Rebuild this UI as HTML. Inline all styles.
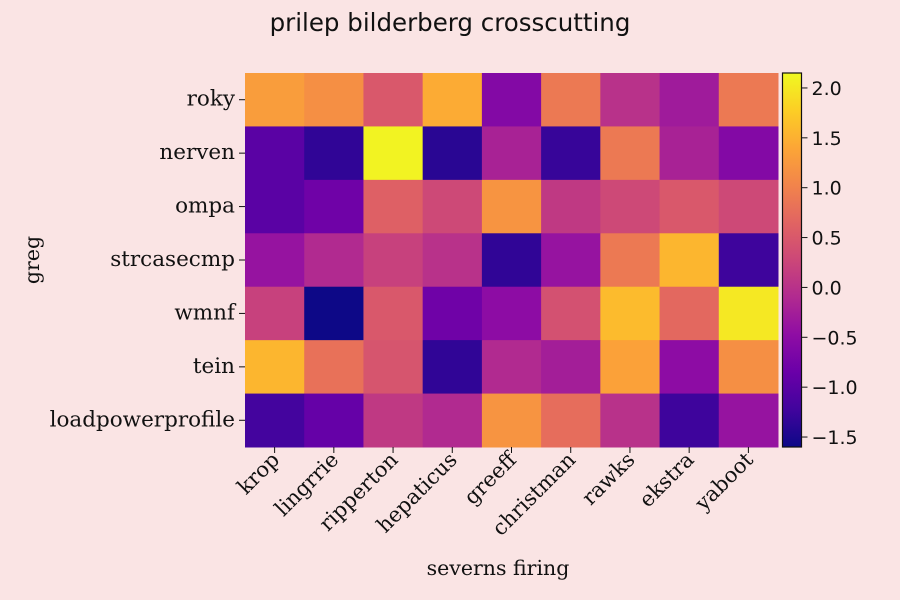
<!DOCTYPE html>
<html><head><meta charset="utf-8"><style>
body{margin:0;background:#fae4e4;}
svg{display:block;}
</style></head><body>
<svg id="chart" width="900" height="600" xmlns="http://www.w3.org/2000/svg">
<rect width="900" height="600" fill="#fae4e4"/>
<text x="450" y="31" text-anchor="middle" font-family="DejaVu Sans, sans-serif" font-size="24.5" fill="#111">prilep bilderberg crosscutting</text>
<g id="cells"></g>
<g id="xaxis"></g>
<g id="yaxis"></g>
<text x="498" y="575" text-anchor="middle" font-family="DejaVu Serif, serif" font-size="20.5" fill="#111">severns firing</text>
<text transform="translate(39,260) rotate(-90)" text-anchor="middle" font-family="DejaVu Serif, serif" font-size="20.5" fill="#111">greg</text>
<defs><linearGradient id="cbg" x1="0" y1="1" x2="0" y2="0"></linearGradient></defs>
<g id="cbar"></g>
</svg>
<script>
const xCats=["krop","lingrrie","ripperton","hepaticus","greeff","christman","rawks","ekstra","yaboot"];
const yCats=["roky","nerven","ompa","strcasecmp","wmnf","tein","loadpowerprofile"];
const values=[
[1.3,1.15,0.5,1.45,-0.6,0.9,0.0,-0.3,0.9],
[-1.0,-1.35,2.1,-1.4,-0.2,-1.3,0.9,-0.2,-0.6],
[-1.0,-0.8,0.6,0.3,1.2,0.1,0.3,0.5,0.3],
[-0.4,-0.1,0.2,0.0,-1.35,-0.4,0.9,1.55,-1.25],
[0.2,-1.6,0.5,-0.8,-0.5,0.4,1.6,0.7,2.0],
[1.55,0.8,0.45,-1.35,-0.1,-0.25,1.35,-0.5,1.15],
[-1.2,-0.9,0.1,-0.1,1.2,0.75,0.0,-1.25,-0.4]];
const cbTicks=[-1.5,-1.0,-0.5,0.0,0.5,1.0,1.5,2.0];
const vmin=-1.6, vmax=2.15;
const stops=["#0d0887","#41049d","#6a00a8","#8f0da4","#b12a90","#cc4778","#e16462","#f2844b","#fca636","#fcce25","#f0f921"];
const NS="http://www.w3.org/2000/svg";
const L=245,R=778,T=73,B=447;
const cw=(R-L)/xCats.length, ch=(B-T)/yCats.length;
function hex(h){return [1,3,5].map(i=>parseInt(h.substr(i,2),16));}
function cmap(v){let t=Math.max(0,Math.min(1,(v-vmin)/(vmax-vmin)))*10;let i=Math.min(9,Math.floor(t)),f=t-i;
const a=hex(stops[i]),b=hex(stops[i+1]);return "rgb("+a.map((x,k)=>Math.round(x+(b[k]-x)*f)).join(",")+")";}
function mk(tag,attrs,parent){const e=document.createElementNS(NS,tag);for(const k in attrs)e.setAttribute(k,attrs[k]);parent.appendChild(e);return e;}
const cells=document.getElementById('cells');
values.forEach((row,r)=>row.forEach((v,c)=>{
const e=mk('rect',{x:L+c*cw,y:T+r*ch,width:cw+0.5,height:ch+0.5,fill:cmap(v)},cells);


}));
const xa=document.getElementById('xaxis');
xCats.forEach((n,i)=>{const x=L+(i+0.5)*cw;
mk('line',{x1:x,y1:B,x2:x,y2:B+6,stroke:'#111'},xa);
const t=mk('text',{transform:`translate(${x+6},${B+14}) rotate(-45)`,'text-anchor':'end','font-family':'DejaVu Serif, serif','font-size':'21',fill:'#111'},xa);
t.textContent=n;

});
const ya=document.getElementById('yaxis');
yCats.forEach((n,i)=>{const y=T+(i+0.5)*ch;
mk('line',{x1:L-6,y1:y,x2:L,y2:y,stroke:'#111'},ya);
const t=mk('text',{x:L-10,y:y+6,'text-anchor':'end','font-family':'DejaVu Serif, serif','font-size':'21.5',fill:'#111'},ya);
t.textContent=n;

});
const g=document.getElementById('cbg');
stops.forEach((s,i)=>mk('stop',{offset:(i*10)+'%','stop-color':s},g));
const cb=document.getElementById('cbar');
const cx=782.5,cwid=19;
mk('rect',{x:cx,y:T,width:cwid,height:B-T,fill:'url(#cbg)',stroke:'#111','stroke-width':1.2},cb);
cbTicks.forEach(v=>{const y=B-(v-vmin)/(vmax-vmin)*(B-T);
mk('line',{x1:cx+cwid,y1:y,x2:cx+cwid+6,y2:y,stroke:'#111'},cb);
const t=mk('text',{x:cx+cwid+10,y:y+7,'font-family':'DejaVu Sans, sans-serif','font-size':'19',fill:'#111'},cb);
t.textContent=(v<0?'\u2212':'')+Math.abs(v).toFixed(1);

});
</script>
</body></html>
